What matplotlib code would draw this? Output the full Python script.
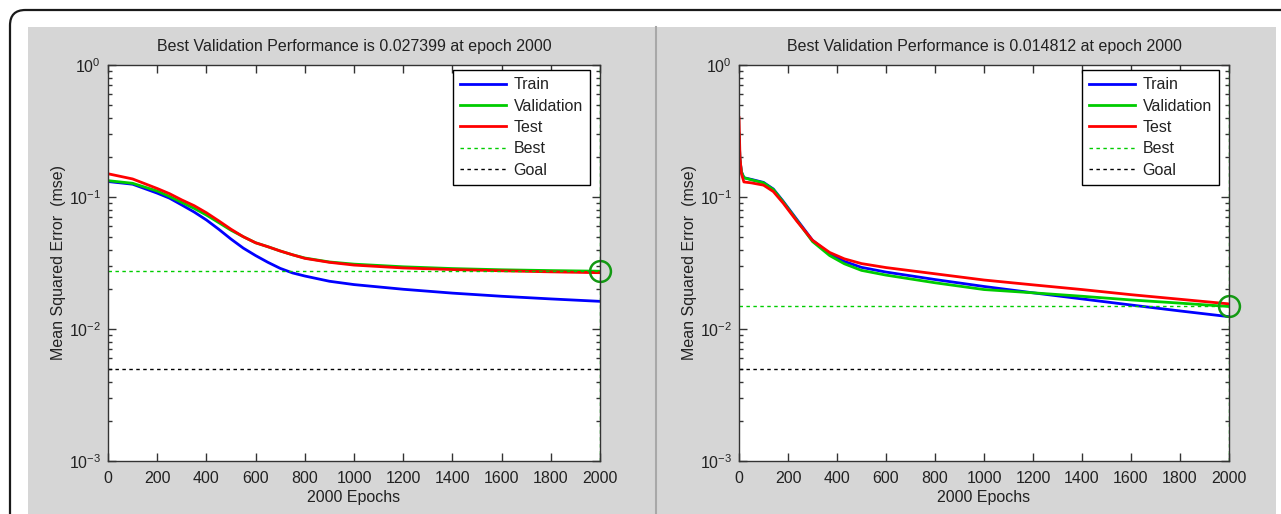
import matplotlib.pyplot as plt
from matplotlib.patches import FancyBboxPatch, Rectangle
from matplotlib.lines import Line2D
from matplotlib.ticker import LogLocator, FixedLocator

plt.rcParams["font.family"] = ["Liberation Sans", "DejaVu Sans"]
plt.rcParams["mathtext.fontset"] = "custom"
plt.rcParams["mathtext.rm"] = "Liberation Sans"

# left run: performance per epoch
left_epochs = [0, 100, 200, 250, 300, 350, 400, 450, 500, 550, 600, 650, 700,
               750, 800, 900, 1000, 1200, 1400, 1600, 1800, 2000]
left_train = [0.131, 0.125, 0.107, 0.098, 0.087, 0.077, 0.067, 0.057, 0.048,
              0.041, 0.036, 0.032, 0.0288, 0.0266, 0.0252, 0.0230, 0.0217,
              0.0200, 0.0187, 0.0177, 0.0169, 0.0162]
left_val = [0.133, 0.127, 0.111, 0.101, 0.091, 0.082, 0.073, 0.064, 0.056,
            0.050, 0.045, 0.042, 0.039, 0.0365, 0.0345, 0.0322, 0.0310,
            0.0296, 0.0287, 0.0281, 0.0277, 0.027399]
left_test = [0.150, 0.137, 0.116, 0.106, 0.095, 0.086, 0.076, 0.066, 0.057,
             0.050, 0.045, 0.042, 0.039, 0.0365, 0.0343, 0.0320, 0.0305,
             0.0290, 0.0282, 0.0276, 0.0271, 0.0267]
left_best = 0.027399

# right run
right_epochs = [0, 4, 10, 20, 50, 100, 140, 180, 235, 300, 370, 430, 500, 600,
                800, 1000, 1200, 1400, 1600, 1800, 2000]
right_train = [0.30, 0.19, 0.155, 0.140, 0.136, 0.129, 0.115, 0.093, 0.068,
               0.047, 0.037, 0.0325, 0.0293, 0.0270, 0.0237, 0.0210, 0.0188,
               0.0169, 0.0152, 0.0137, 0.0124]
right_val = [0.30, 0.19, 0.155, 0.140, 0.135, 0.128, 0.114, 0.092, 0.067,
             0.046, 0.036, 0.0312, 0.0278, 0.0256, 0.0224, 0.0199, 0.0188,
             0.0177, 0.0166, 0.0157, 0.014812]
right_test = [0.40, 0.20, 0.150, 0.130, 0.128, 0.123, 0.110, 0.090, 0.066,
              0.047, 0.038, 0.0340, 0.0313, 0.0292, 0.0262, 0.0235, 0.0216,
              0.0199, 0.0182, 0.0168, 0.0155]
right_best = 0.014812

goal = 0.005
best_epoch = 2000
n_epochs = 2000

W, H = 1281, 514
fig = plt.figure(figsize=(W / 100, H / 100), dpi=100)
fig.patch.set_facecolor("white")

# grey figure area, rounded outer frame and panel divider
fig.patches.append(Rectangle((28 / W, 0), (1276 - 28) / W, 1 - 27 / H,
                             transform=fig.transFigure, facecolor="#d6d6d6",
                             edgecolor="none", zorder=-2))
fig.patches.append(FancyBboxPatch((10 / W, -0.2), 1.2, 1.2 - 10 / H,
                                  boxstyle="round,pad=0,rounding_size=0.012",
                                  transform=fig.transFigure, facecolor="none",
                                  edgecolor="#1a1a1a", linewidth=1.6, zorder=-1,
                                  mutation_aspect=W / H))
fig.add_artist(Line2D([656 / W, 656 / W], [0, 1 - 27 / H], transform=fig.transFigure,
                      color="#a8a8a8", linewidth=1.5, zorder=-1))

text_color = "#222222"
fs = 11.5
blue, green, red = "#0000ff", "#00cc00", "#ff0000"


def draw_panel(rect, epochs, train, val, test, best):
    ax = fig.add_axes(rect)
    ax.set_facecolor("white")
    ax.plot(epochs, train, color=blue, linewidth=2, label="Train")
    ax.plot(epochs, val, color=green, linewidth=2, label="Validation")
    ax.plot(epochs, test, color=red, linewidth=2, label="Test")
    ax.axhline(best, color=green, linestyle=(0, (2.5, 2.5)), linewidth=1, label="Best")
    ax.axhline(goal, color="black", linestyle=(0, (2.5, 2.5)), linewidth=1, label="Goal")
    ax.axvline(best_epoch, color=green, linestyle=(0, (2.5, 2.5)), linewidth=1)
    ax.plot([best_epoch], [best], marker="o", markersize=15, markerfacecolor="none",
            markeredgecolor="#139a13", markeredgewidth=1.8, clip_on=False)

    ax.set_yscale("log")
    ax.set_xlim(0, n_epochs)
    ax.set_ylim(1e-3, 1)
    ax.xaxis.set_major_locator(FixedLocator(range(0, 2001, 200)))
    ax.yaxis.set_major_locator(LogLocator(base=10, numticks=10))
    ax.yaxis.set_minor_locator(LogLocator(base=10, subs=range(2, 10), numticks=10))
    ax.tick_params(which="both", direction="in", top=True, right=True,
                   colors="#333333", labelcolor=text_color, labelsize=fs, width=1)
    ax.tick_params(which="major", length=6)
    ax.tick_params(which="minor", length=3)
    ax.tick_params(axis="x", pad=7)
    ax.tick_params(axis="y", pad=5)
    for s in ax.spines.values():
        s.set_color("#333333")
        s.set_linewidth(1)

    ax.set_title(f"Best Validation Performance is {best:.6f} at epoch {best_epoch}",
                 fontsize=fs, color=text_color, pad=10)
    ax.set_xlabel(f"{n_epochs} Epochs", fontsize=fs, color=text_color, labelpad=3)
    ax.set_ylabel("Mean Squared Error  (mse)", fontsize=fs, color=text_color, labelpad=2)

    leg = ax.legend(loc="upper right", bbox_to_anchor=(1 - 10 / 492, 1 - 5 / 396),
                    borderaxespad=0, fontsize=fs, handlelength=2.9,
                    handletextpad=0.45, labelspacing=0.4, fancybox=False,
                    framealpha=1, edgecolor="black", borderpad=0.45)
    leg.get_frame().set_linewidth(1)
    for t in leg.get_texts():
        t.set_color(text_color)
    return ax


bottom = (H - 461) / H
height = (461 - 65) / H
draw_panel([108 / W, bottom, 492 / W, height],
           left_epochs, left_train, left_val, left_test, left_best)
draw_panel([739 / W, bottom, 490 / W, height],
           right_epochs, right_train, right_val, right_test, right_best)

fig.savefig("out.png", dpi=100)
